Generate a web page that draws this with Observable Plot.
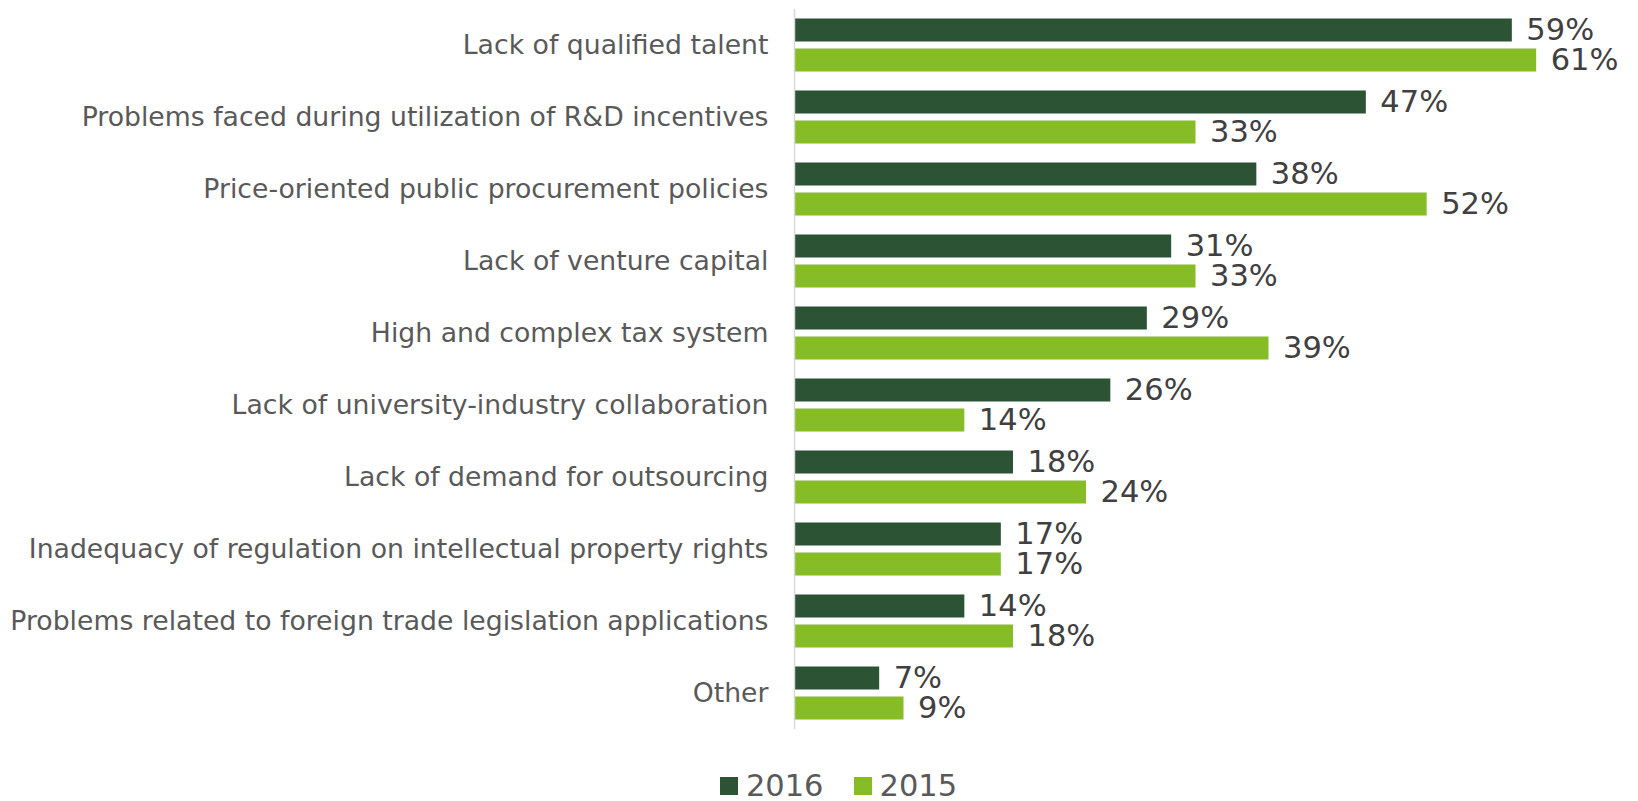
<!DOCTYPE html>
<html>
<head>
<meta charset="utf-8">
<script src="https://cdn.jsdelivr.net/npm/d3@7"></script>
<script src="https://cdn.jsdelivr.net/npm/@observablehq/plot@0.6"></script>
<style>
  body { margin: 0; background: #fff; font-family: "DejaVu Sans", Verdana, sans-serif; }
  #chart svg { display: block; }
  #legend { display: flex; justify-content: center; align-items: center; padding-left: 39px; height: 30px; line-height: 30px; font-size: 30.5px; color: #595959; }
  #legend .item { display: flex; align-items: center; margin: 0 15px; }
  #legend .sw { width: 18px; height: 18px; margin-right: 8px; }
</style>
</head>
<body>
<div id="chart"></div>
<div id="legend"></div>
<script>
const categories = [
  "Lack of qualified talent",
  "Problems faced during utilization of R&D incentives",
  "Price-oriented public procurement policies",
  "Lack of venture capital",
  "High and complex tax system",
  "Lack of university-industry collaboration",
  "Lack of demand for outsourcing",
  "Inadequacy of regulation on intellectual property rights",
  "Problems related to foreign trade legislation applications",
  "Other"
];
const series = ["2016", "2015"];
const values2016 = [59, 47, 38, 31, 29, 26, 18, 17, 14, 7];
const values2015 = [61, 33, 52, 33, 39, 14, 24, 17, 18, 9];
const colors = ["#2b5334", "#86bc25"];

const data = [];
categories.forEach((c, i) => {
  data.push({category: c, year: "2016", value: values2016[i]});
  data.push({category: c, year: "2015", value: values2015[i]});
});

const chart = Plot.plot({
  width: 1638,
  height: 771,
  marginLeft: 794,
  marginRight: 41,
  marginTop: 7.5,
  marginBottom: 40.5,
  style: {fontFamily: "DejaVu Sans, Verdana, sans-serif", background: "#fff"},
  x: {domain: [0, 66], axis: null},
  y: {domain: series, paddingInner: 0.24, paddingOuter: 0.3, axis: null},
  fy: {domain: categories, padding: 0, axis: null},
  color: {domain: series, range: colors},
  marks: [
    Plot.axisFy({anchor: "left", tickSize: 0, tickPadding: 26, fontSize: 26.7, fill: "#595959", label: null}),
    Plot.barX(data, {fy: "category", y: "year", x: "value", fill: "year"}),
    Plot.ruleX([0], {stroke: "#d9d9d9", strokeWidth: 1.5}),
    Plot.text(data, {fy: "category", y: "year", x: "value", text: d => d.value + "%", textAnchor: "start", dx: 14, dy: 0, fontSize: 30.5, fill: "#404040"})
  ]
});
document.getElementById("chart").appendChild(chart);

const legend = document.getElementById("legend");
series.forEach((s, i) => {
  const item = document.createElement("div");
  item.className = "item";
  const sw = document.createElement("div");
  sw.className = "sw";
  sw.style.background = colors[i];
  const t = document.createElement("span");
  t.textContent = s;
  item.appendChild(sw);
  item.appendChild(t);
  legend.appendChild(item);
});
</script>
</body>
</html>
